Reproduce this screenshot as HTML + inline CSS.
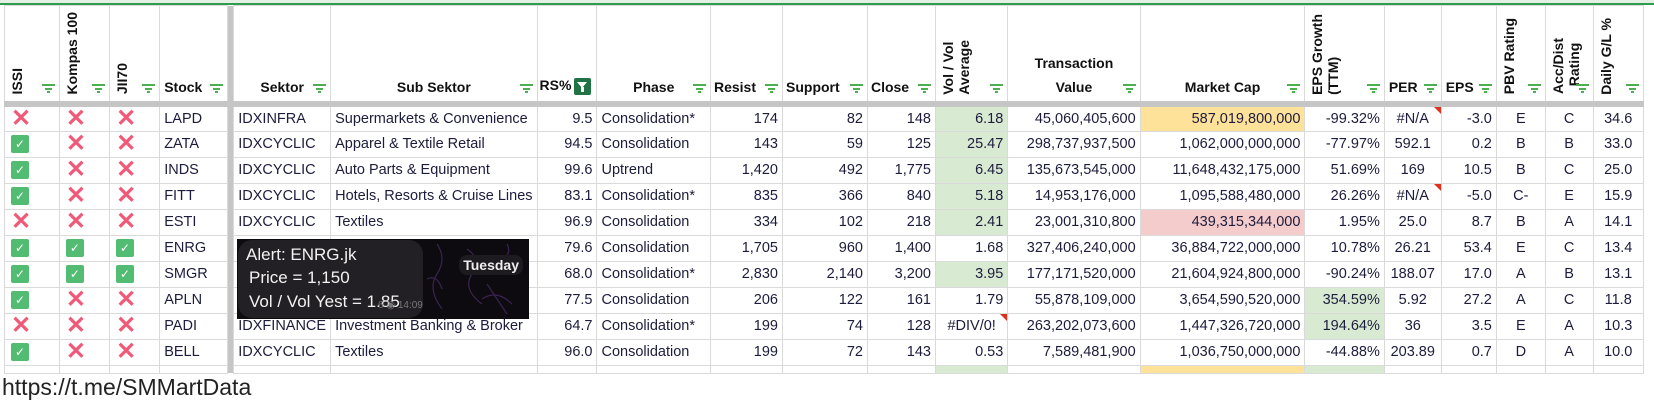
<!DOCTYPE html>
<html><head><meta charset="utf-8">
<style>
*{margin:0;padding:0;box-sizing:border-box}
body{width:1654px;height:409px;background:#fff;position:relative;overflow:hidden;font-family:"Liberation Sans",Arial,sans-serif;color:#1c1c3c}
.topline{position:absolute;left:0;top:3px;width:1654px;height:2px;background:#2e9b4e}
.topbar{position:absolute;left:0;top:0;width:1654px;height:3px;background:#e3f1e3}
table{position:absolute;left:4px;top:5px;border-collapse:collapse;table-layout:fixed}
td{border:1px solid #dadada;height:26px;font-size:14.5px;white-space:nowrap;overflow:hidden;padding:0 4px;text-align:right;position:relative}
tr.h td{height:98px;border-bottom:6px solid #c6c6c6;font-weight:bold;font-size:14px;vertical-align:bottom;text-align:center;padding-bottom:6px;color:#111}
td.g{background:#c6c6c6;border:none;padding:0}
td.l{text-align:left}
td.c{text-align:center}
.gr{background:#d9ead3}
.ye{background:#ffe29a}
.rd{background:#f4cccc}
.x{color:#f05a78;font-size:24px;font-weight:bold;line-height:24px}
.v{display:inline-block;width:18px;height:18px;background:#52bd72;border-radius:2px;color:#fff;font-size:12px;line-height:18px;text-align:center;vertical-align:middle}
.ic{text-align:left;padding-left:6px}
.vt{position:absolute;left:4px;bottom:6px;writing-mode:vertical-rl;transform:rotate(180deg);text-align:left;line-height:16px}
.f{position:absolute;right:4px;bottom:8px;width:13px;height:9px}
.f:before,.f:after,.f i{content:"";position:absolute;height:2px;background:#4caf50}
.f:before{left:0;top:0;width:13px}
.f i{left:3px;top:4px;width:7px;display:block}
.f:after{left:5px;top:7px;width:3px;height:2px}
.tri{position:absolute;right:0;top:0;width:0;height:0;border-top:7px solid #e03020;border-left:7px solid transparent}
.fb{display:inline-block;width:17px;height:17px;background:#217346;border-radius:2px;vertical-align:middle;position:relative;margin-left:3px}
.fb:before{content:"";position:absolute;left:3px;top:4px;border-left:5.5px solid transparent;border-right:5.5px solid transparent;border-top:6px solid #fff}
.fb:after{content:"";position:absolute;left:7px;top:9px;width:3px;height:5px;background:#fff}
.foot{position:absolute;left:2px;top:374px;font-size:23px;color:#222}
.ov{position:absolute;left:237px;top:239px;width:292px;height:80px;background:#0d0a10;overflow:hidden}
.bub{position:absolute;left:1px;top:1px;width:185px;height:78px;background:#222024;border-radius:14px;color:#f2f2f2;font-size:17px;font-family:"Liberation Sans Narrow","Liberation Sans",sans-serif}
.bub div{position:absolute;left:8px}
.tue{position:absolute;right:6px;top:16px;background:#1d1b20;border-radius:8px;color:#eee;font-weight:bold;font-size:14px;padding:2px 4px;font-family:"Liberation Sans Narrow","Liberation Sans",sans-serif}
</style></head><body>
<div class="topbar"></div><div class="topline"></div>
<table>
<colgroup>
<col style="width:56px"><col style="width:51px"><col style="width:51px"><col style="width:69px"><col style="width:6px"><col style="width:92px"><col style="width:200px"><col style="width:60px"><col style="width:114px"><col style="width:73px"><col style="width:86px"><col style="width:69px"><col style="width:73px"><col style="width:133px"><col style="width:166px"><col style="width:80px"><col style="width:57px"><col style="width:56px"><col style="width:50px"><col style="width:49px"><col style="width:51px"><col style="width:10px">
</colgroup>
<tr class="h">
<td><span class="vt">ISSI</span><span class="f"><i></i></span></td>
<td><span class="vt">Kompas 100</span><span class="f"><i></i></span></td>
<td><span class="vt">JII70</span><span class="f"><i></i></span></td>
<td style="text-align:left;padding-left:4px">Stock<span class="f"><i></i></span></td>
<td class="g"></td>
<td>Sektor<span class="f"><i></i></span></td>
<td>Sub Sektor<span class="f"><i></i></span></td>
<td style="text-align:left;padding-left:2px">RS%<span class="fb"></span></td>
<td>Phase<span class="f"><i></i></span></td>
<td style="text-align:left;padding-left:3px">Resist<span class="f"><i></i></span></td>
<td style="text-align:left;padding-left:3px">Support<span class="f"><i></i></span></td>
<td style="text-align:left;padding-left:3px">Close<span class="f"><i></i></span></td>
<td><span class="vt">Vol / Vol<br>Average</span><span class="f"><i></i></span></td>
<td>Transaction<br><span style="display:inline-block;margin-top:8px">Value</span><span class="f"><i></i></span></td>
<td>Market Cap<span class="f"><i></i></span></td>
<td><span class="vt">EPS Growth<br>(TTM)</span><span class="f"><i></i></span></td>
<td style="text-align:left;padding-left:4px">PER<span class="f"><i></i></span></td>
<td style="text-align:left;padding-left:4px">EPS<span class="f"><i></i></span></td>
<td><span class="vt">PBV Rating</span><span class="f"><i></i></span></td>
<td><span class="vt">Acc/Dist<br>&nbsp;&nbsp;Rating</span><span class="f"><i></i></span></td>
<td><span class="vt">Daily G/L %</span><span class="f"><i></i></span></td>
<td style="border:none"></td>
</tr>
<tr><td class="ic x">✕</td><td class="ic x">✕</td><td class="ic x">✕</td><td class="l">LAPD</td><td class="g"></td><td class="l">IDXINFRA</td><td class="l">Supermarkets &amp; Convenience</td><td>9.5</td><td class="l">Consolidation*</td><td>174</td><td>82</td><td>148</td><td class="gr">6.18</td><td>45,060,405,600</td><td class="ye">587,019,800,000</td><td>-99.32%</td><td class="c">#N/A<span class="tri"></span></td><td>-3.0</td><td class="c">E</td><td class="c">C</td><td class="c">34.6</td><td style="border:none"></td></tr>
<tr><td class="ic"><span class="v">✓</span></td><td class="ic x">✕</td><td class="ic x">✕</td><td class="l">ZATA</td><td class="g"></td><td class="l">IDXCYCLIC</td><td class="l">Apparel &amp; Textile Retail</td><td>94.5</td><td class="l">Consolidation</td><td>143</td><td>59</td><td>125</td><td class="gr">25.47</td><td>298,737,937,500</td><td>1,062,000,000,000</td><td>-77.97%</td><td class="c">592.1</td><td>0.2</td><td class="c">B</td><td class="c">B</td><td class="c">33.0</td><td style="border:none"></td></tr>
<tr><td class="ic"><span class="v">✓</span></td><td class="ic x">✕</td><td class="ic x">✕</td><td class="l">INDS</td><td class="g"></td><td class="l">IDXCYCLIC</td><td class="l">Auto Parts &amp; Equipment</td><td>99.6</td><td class="l">Uptrend</td><td>1,420</td><td>492</td><td>1,775</td><td class="gr">6.45</td><td>135,673,545,000</td><td>11,648,432,175,000</td><td>51.69%</td><td class="c">169</td><td>10.5</td><td class="c">B</td><td class="c">C</td><td class="c">25.0</td><td style="border:none"></td></tr>
<tr><td class="ic"><span class="v">✓</span></td><td class="ic x">✕</td><td class="ic x">✕</td><td class="l">FITT</td><td class="g"></td><td class="l">IDXCYCLIC</td><td class="l">Hotels, Resorts &amp; Cruise Lines</td><td>83.1</td><td class="l">Consolidation*</td><td>835</td><td>366</td><td>840</td><td class="gr">5.18</td><td>14,953,176,000</td><td>1,095,588,480,000</td><td>26.26%</td><td class="c">#N/A<span class="tri"></span></td><td>-5.0</td><td class="c">C-</td><td class="c">E</td><td class="c">15.9</td><td style="border:none"></td></tr>
<tr><td class="ic x">✕</td><td class="ic x">✕</td><td class="ic x">✕</td><td class="l">ESTI</td><td class="g"></td><td class="l">IDXCYCLIC</td><td class="l">Textiles</td><td>96.9</td><td class="l">Consolidation</td><td>334</td><td>102</td><td>218</td><td class="gr">2.41</td><td>23,001,310,800</td><td class="rd">439,315,344,000</td><td>1.95%</td><td class="c">25.0</td><td>8.7</td><td class="c">B</td><td class="c">A</td><td class="c">14.1</td><td style="border:none"></td></tr>
<tr><td class="ic"><span class="v">✓</span></td><td class="ic"><span class="v">✓</span></td><td class="ic"><span class="v">✓</span></td><td class="l">ENRG</td><td class="g"></td><td class="l"></td><td class="l"></td><td>79.6</td><td class="l">Consolidation</td><td>1,705</td><td>960</td><td>1,400</td><td>1.68</td><td>327,406,240,000</td><td>36,884,722,000,000</td><td>10.78%</td><td class="c">26.21</td><td>53.4</td><td class="c">E</td><td class="c">C</td><td class="c">13.4</td><td style="border:none"></td></tr>
<tr><td class="ic"><span class="v">✓</span></td><td class="ic"><span class="v">✓</span></td><td class="ic"><span class="v">✓</span></td><td class="l">SMGR</td><td class="g"></td><td class="l"></td><td class="l"></td><td>68.0</td><td class="l">Consolidation*</td><td>2,830</td><td>2,140</td><td>3,200</td><td class="gr">3.95</td><td>177,171,520,000</td><td>21,604,924,800,000</td><td>-90.24%</td><td class="c">188.07</td><td>17.0</td><td class="c">A</td><td class="c">B</td><td class="c">13.1</td><td style="border:none"></td></tr>
<tr><td class="ic"><span class="v">✓</span></td><td class="ic x">✕</td><td class="ic x">✕</td><td class="l">APLN</td><td class="g"></td><td class="l"></td><td class="l"></td><td>77.5</td><td class="l">Consolidation</td><td>206</td><td>122</td><td>161</td><td>1.79</td><td>55,878,109,000</td><td>3,654,590,520,000</td><td class="gr">354.59%</td><td class="c">5.92</td><td>27.2</td><td class="c">A</td><td class="c">C</td><td class="c">11.8</td><td style="border:none"></td></tr>
<tr><td class="ic x">✕</td><td class="ic x">✕</td><td class="ic x">✕</td><td class="l">PADI</td><td class="g"></td><td class="l">IDXFINANCE</td><td class="l">Investment Banking &amp; Broker</td><td>64.7</td><td class="l">Consolidation*</td><td>199</td><td>74</td><td>128</td><td class="c">#DIV/0!<span class="tri"></span></td><td>263,202,073,600</td><td>1,447,326,720,000</td><td class="gr">194.64%</td><td class="c">36</td><td>3.5</td><td class="c">E</td><td class="c">A</td><td class="c">10.3</td><td style="border:none"></td></tr>
<tr><td class="ic"><span class="v">✓</span></td><td class="ic x">✕</td><td class="ic x">✕</td><td class="l">BELL</td><td class="g"></td><td class="l">IDXCYCLIC</td><td class="l">Textiles</td><td>96.0</td><td class="l">Consolidation</td><td>199</td><td>72</td><td>143</td><td>0.53</td><td>7,589,481,900</td><td>1,036,750,000,000</td><td>-44.88%</td><td class="c">203.89</td><td>0.7</td><td class="c">D</td><td class="c">A</td><td class="c">10.0</td><td style="border:none"></td></tr>
<tr style="height:8px"><td style="height:8px"></td><td style="height:8px"></td><td style="height:8px"></td><td style="height:8px"></td><td class="g" style="height:8px"></td><td style="height:8px"></td><td style="height:8px"></td><td style="height:8px"></td><td style="height:8px"></td><td style="height:8px"></td><td style="height:8px"></td><td style="height:8px"></td><td class="gr" style="height:8px"></td><td style="height:8px"></td><td class="ye" style="height:8px"></td><td class="gr" style="height:8px"></td><td style="height:8px"></td><td style="height:8px"></td><td style="height:8px"></td><td style="height:8px"></td><td style="height:8px"></td><td style="border:none;height:8px"></td></tr>
</table>
<div class="ov">
<svg width="292" height="80" style="position:absolute;left:0;top:0"><g fill="none" stroke="#3a2450" stroke-width="1.2"><path d="M200 5 q10 15 0 30 t5 35"/><path d="M230 10 q15 10 5 25 q-10 15 10 30"/><circle cx="160" cy="55" r="10"/><path d="M250 45 l20 30 M245 60 q15 -10 30 5"/><path d="M190 40 q10 -5 15 10"/><path d="M270 5 q5 10 -5 15"/></g></svg>
<div class="bub">
<div style="top:5px">Alert: ENRG.jk</div>
<div style="top:28px;left:11px">Price = 1,150</div>
<div style="top:52px;left:11px">Vol / Vol Yest = 1.85</div>
<div style="top:60px;left:140px;font-size:10px;color:#777">6 ◉ 14:09</div>
</div>
<div class="tue">Tuesday</div>
</div>
<div class="foot">https://t.me/SMMartData</div>
</body></html>
